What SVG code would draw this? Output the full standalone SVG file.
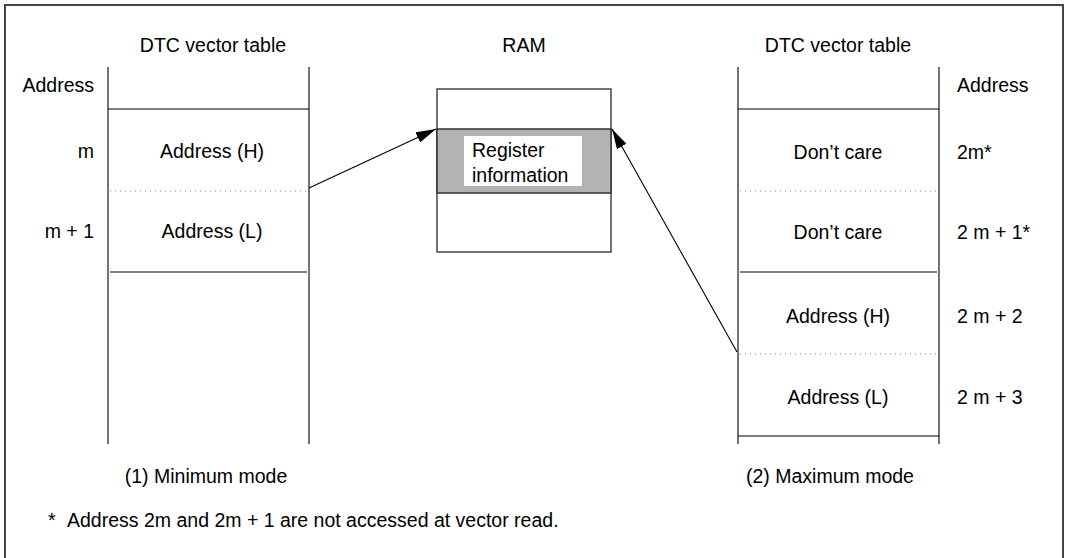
<svg xmlns="http://www.w3.org/2000/svg" width="1065" height="558" viewBox="0 0 1065 558">
<defs>
<style>
text{font-family:"Liberation Sans",Arial,sans-serif;font-size:19.5px;fill:#000}
.c{text-anchor:middle}
.e{text-anchor:end}
.frame{fill:none;stroke:#444;stroke-width:2}
.v{stroke:#444;stroke-width:1.5}
.h{stroke:#000;stroke-width:1.2}
.d{stroke:#888;stroke-width:1;stroke-dasharray:1 4}
.conn{stroke:#000;stroke-width:1.1;fill:none}
</style>
<marker id="ah" viewBox="0 0 20 11" refX="20" refY="5.5" markerWidth="20" markerHeight="11" markerUnits="userSpaceOnUse" orient="auto">
<path d="M0,0 L20,5.5 L0,11 Z" fill="#000"/>
</marker>
</defs>
<rect width="1065" height="558" fill="#fff"/>
<path class="frame" d="M5,560 V5 H1063 V560"/>

<g id="min-table">
<text class="c" x="213" y="52">DTC vector table</text>
<line class="v" x1="108" y1="67" x2="108" y2="444"/>
<line class="v" x1="309" y1="67" x2="309" y2="444"/>
<line class="h" x1="108" y1="109" x2="309" y2="109"/>
<line class="d" x1="110" y1="191" x2="307" y2="191"/>
<line class="h" x1="110" y1="272" x2="307" y2="272"/>
<text class="e" x="94" y="92">Address</text>
<text class="e" x="94" y="158">m</text>
<text class="e" x="94" y="238">m + 1</text>
<text class="c" x="212" y="158">Address (H)</text>
<text class="c" x="212" y="238">Address (L)</text>
<text class="c" x="206" y="483">(1) Minimum mode</text>
</g>

<g id="ram">
<text class="c" x="524" y="52">RAM</text>
<rect x="437" y="89" width="174" height="163" fill="#fff" stroke="#444" stroke-width="1.5"/>
<rect x="437" y="129" width="174" height="64" fill="#b3b3b3" stroke="#333" stroke-width="1.5"/>
<rect x="464" y="136" width="118" height="50" fill="#fff"/>
<text x="472" y="157">Register</text>
<text x="472" y="182">information</text>
</g>

<g id="max-table">
<text class="c" x="838" y="52">DTC vector table</text>
<line class="v" x1="738" y1="67" x2="738" y2="444"/>
<line class="v" x1="939" y1="67" x2="939" y2="444"/>
<line class="h" x1="738" y1="109" x2="939" y2="109"/>
<line class="d" x1="740" y1="191" x2="937" y2="191"/>
<line class="h" x1="740" y1="272" x2="937" y2="272"/>
<line class="d" x1="740" y1="354" x2="937" y2="354"/>
<line class="h" x1="738" y1="436" x2="939" y2="436"/>
<text class="c" x="838" y="159">Don’t care</text>
<text class="c" x="838" y="239">Don’t care</text>
<text class="c" x="838" y="323">Address (H)</text>
<text class="c" x="838" y="404">Address (L)</text>
<text x="957" y="92">Address</text>
<text x="957" y="159">2m*</text>
<text x="957" y="239">2 m + 1*</text>
<text x="957" y="323">2 m + 2</text>
<text x="957" y="404">2 m + 3</text>
<text class="c" x="830" y="483">(2) Maximum mode</text>
</g>

<g id="footnote">
<text x="48" y="527">*</text>
<text x="67" y="527">Address 2m and 2m + 1 are not accessed at vector read.</text>
</g>

<g id="connectors">
<line class="conn" x1="309" y1="188" x2="436" y2="129" marker-end="url(#ah)"/>
<line class="conn" x1="737" y1="352" x2="612" y2="129" marker-end="url(#ah)"/>
</g>
</svg>
